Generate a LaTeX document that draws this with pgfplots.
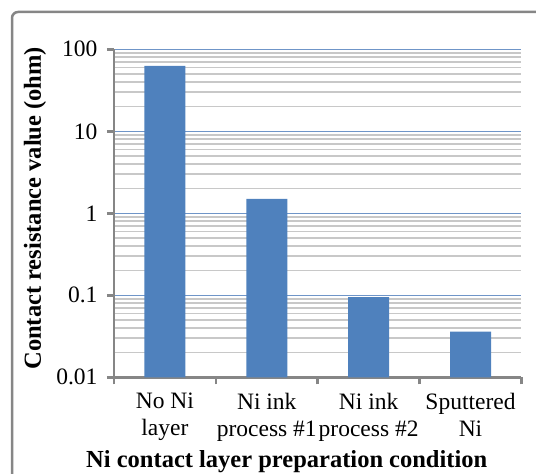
\documentclass[border=0pt]{standalone}
\usepackage{fontspec}
\setmainfont{Liberation Serif}
\usepackage{pgfplots}
\pgfplotsset{compat=1.18}
\definecolor{barblue}{HTML}{4F81BD}
\definecolor{majgrid}{HTML}{6F95C8}
\definecolor{mingrid}{HTML}{C8C8C8}
\definecolor{axgray}{HTML}{868686}
\begin{document}
\begin{tikzpicture}[x=1pt,y=1pt]
\useasboundingbox (0,0) rectangle (536,474);
\draw[axgray, line width=2.5pt, rounded corners=6pt] (12,462) rectangle (580,-40);
\begin{axis}[
  at={(114pt,96.7pt)}, anchor=south west,
  scale only axis, width=407.5pt, height=328pt,
  ymode=log, ymin=0.01, ymax=100, log origin=infty,
  xmin=0, xmax=4,
  axis lines*=left,
  axis line style={axgray, line width=2.5pt},
  tick align=outside, major tick length=7pt, minor tick length=0pt,
  tick style={axgray, line width=2.5pt},
  ytick={0.01,0.1,1,10,100}, yticklabels={0.01,0.1,1,10,100},
  minor ytick={0.02,0.03,0.04,0.05,0.06,0.07,0.08,0.09,0.2,0.3,0.4,0.5,0.6,0.7,0.8,0.9,2,3,4,5,6,7,8,9,20,30,40,50,60,70,80,90},
  xtick={0,1,2,3,4},
  xticklabels={{No Ni\\layer},{Ni ink\\process \#1},{Ni ink\\process \#2},{Sputtered\\Ni},{}},
  xticklabel style={align=center, xshift=50.9pt, yshift=-5pt, font=\fontsize{23.5}{27}\selectfont},
  yticklabel style={xshift=-6pt, font=\fontsize{23.5}{25}\selectfont},
  ymajorgrids, yminorgrids,
  major grid style={majgrid, line width=1.3pt},
  minor grid style={mingrid, line width=1.5pt},
  xlabel={Ni contact layer preparation condition},
  ylabel={Contact resistance value (ohm)},
  every axis x label/.style={at={(axis description cs:0.5,0)}, xshift=-31pt, yshift=-90pt, anchor=base, font=\bfseries\fontsize{24.5}{28}\selectfont},
  every axis y label/.style={at={(axis description cs:0,0.5)}, xshift=-79pt, yshift=5pt, rotate=90, anchor=center, font=\bfseries\fontsize{24.5}{28}\selectfont},
]
\addplot[ybar, bar width=41pt, fill=barblue, draw=none] coordinates {(0.5,63) (1.5,1.5) (2.5,0.095) (3.5,0.036)};
\end{axis}
\end{tikzpicture}
\end{document}
